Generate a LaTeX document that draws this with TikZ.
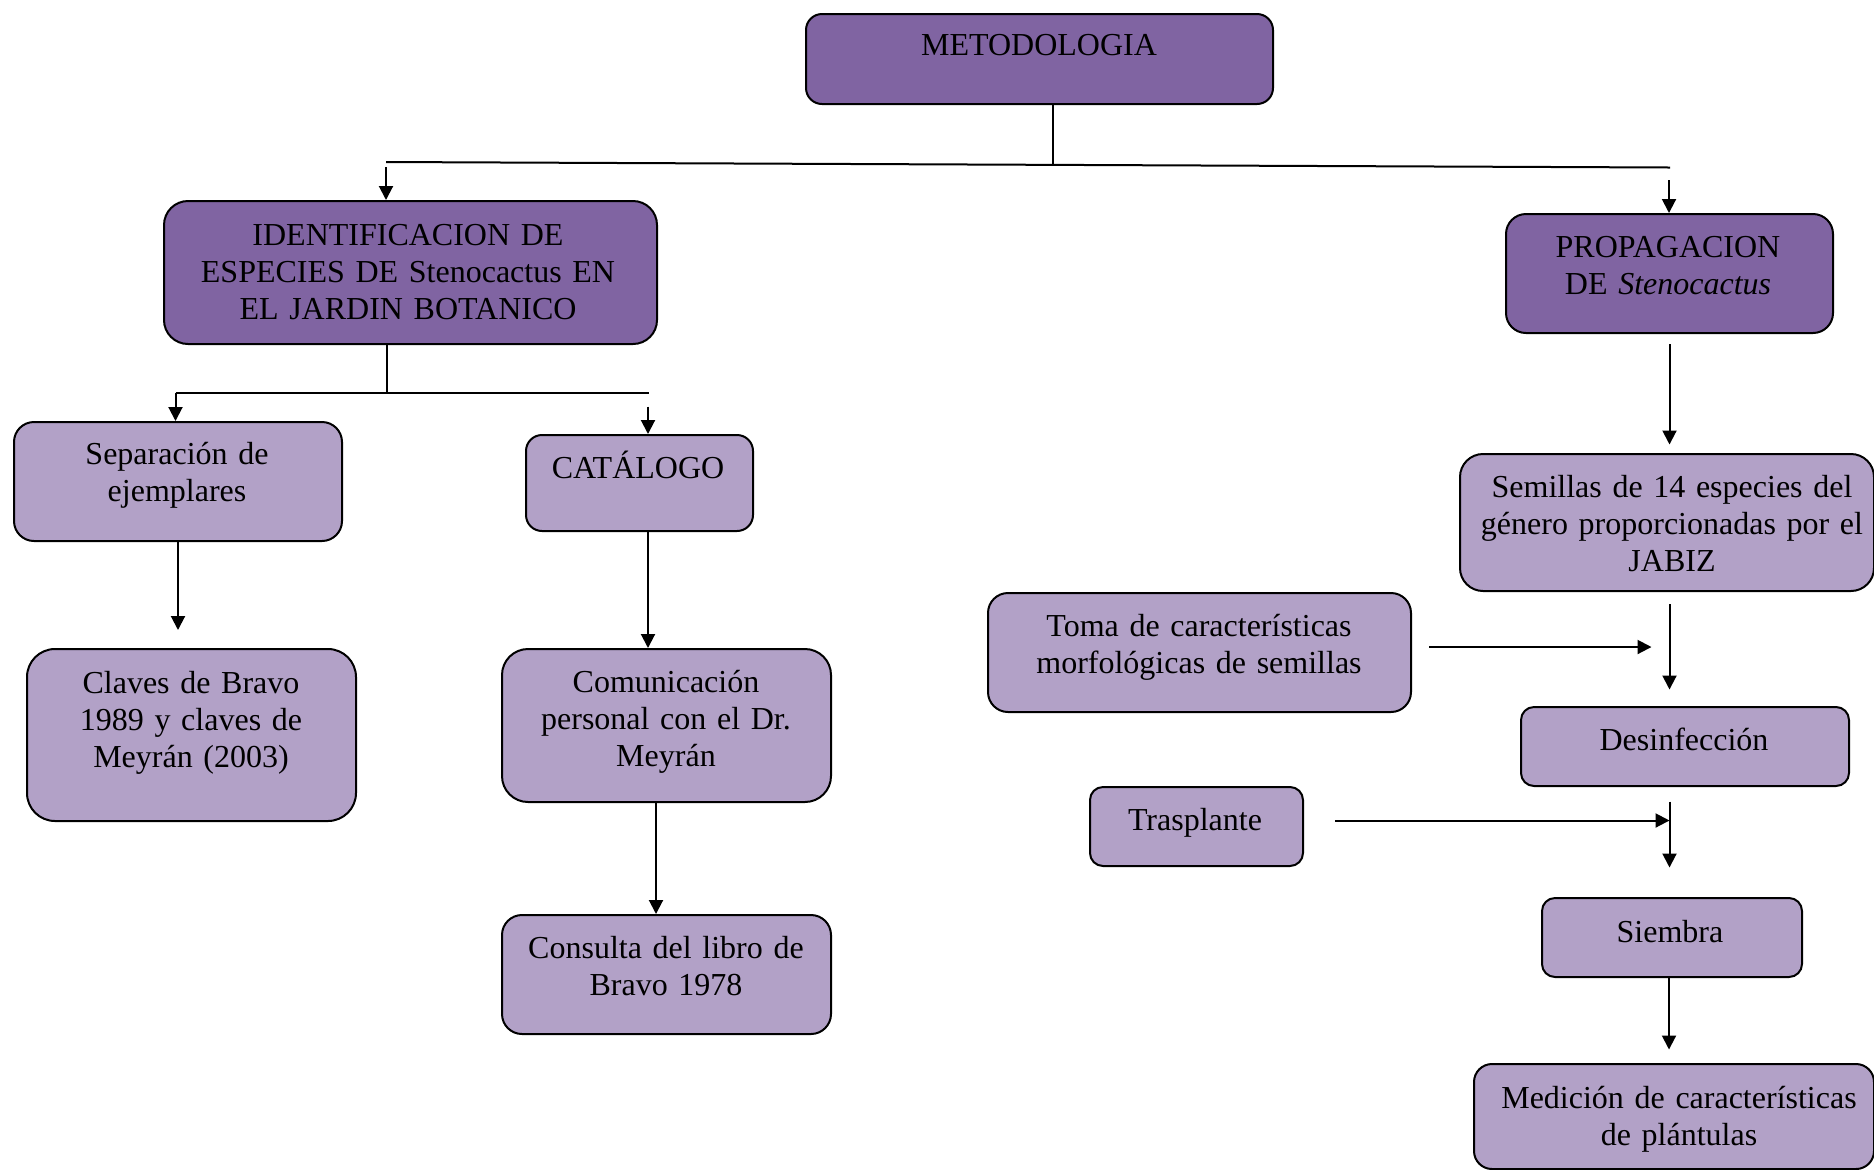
\documentclass[tikz,border=0pt]{standalone}
\usepackage{fontspec}
\setmainfont{Liberation Serif}
\usetikzlibrary{arrows.meta}
\definecolor{dkp}{HTML}{8064A2}
\definecolor{ltp}{HTML}{B2A1C7}
\newcommand\diafont{\fontsize{16pt}{18.7pt}\selectfont}
\begin{document}
\begin{tikzpicture}[x=0.5pt,y=-0.5pt,
  boxbase/.style={draw=black,line width=1pt,inner sep=0pt,anchor=north west},
  darkbox/.style={boxbase,fill=dkp},
  lightbox/.style={boxbase,fill=ltp},
  txt/.style={font=\diafont,align=center,inner sep=0pt,anchor=base,text=black},
  link/.style={line width=1pt,draw=black},
  arr/.style={link,-{Triangle[width=7pt,length=7pt]}}]
\useasboundingbox (0,0) rectangle (1874,1169);

% boxes
\node[darkbox,minimum width=233.5pt,minimum height=45pt,rounded corners=8pt] (met) at (805,13) {};
\node[txt,text width=233.5pt] (mett) at (1039,55) {METODOLOGIA};

\node[darkbox,minimum width=246.5pt,minimum height=71.5pt,rounded corners=12pt] (ide) at (163,200) {};
\node[txt,text width=246.5pt] (idet) at (408,245) {IDENTIFICACION DE\\ESPECIES DE Stenocactus EN\\EL JARDIN BOTANICO};

\node[darkbox,minimum width=163.5pt,minimum height=59.5pt,rounded corners=10pt] (pro) at (1505,213) {};
\node[txt,text width=163.5pt] (prot) at (1668,257) {PROPAGACION\\DE \textit{Stenocactus}};

\node[lightbox,minimum width=164pt,minimum height=59.5pt,rounded corners=10pt] (sep) at (13,421) {};
\node[txt,text width=164pt] (sept) at (177,464) {Separación de\\ejemplares};

\node[lightbox,minimum width=113.5pt,minimum height=48pt,rounded corners=8pt] (cat) at (525,434) {};
\node[txt,text width=113.5pt] (catt) at (638,478) {CATÁLOGO};

\node[lightbox,minimum width=164.5pt,minimum height=86pt,rounded corners=14pt] (cla) at (26,648) {};
\node[txt,text width=164.5pt] (clat) at (191,693) {Claves de Bravo\\1989 y claves de\\Meyrán (2003)};

\node[lightbox,minimum width=164.5pt,minimum height=76.5pt,rounded corners=13pt] (com) at (501,648) {};
\node[txt,text width=164.5pt] (comt) at (666,692) {Comunicación\\personal con el Dr.\\Meyrán};

\node[lightbox,minimum width=164.5pt,minimum height=59.5pt,rounded corners=10pt] (con) at (501,914) {};
\node[txt,text width=164.5pt] (cont) at (666,958) {Consulta del libro de\\Bravo 1978};

\node[lightbox,minimum width=207pt,minimum height=68.5pt,rounded corners=11.5pt] (sem) at (1459,453) {};
\node[txt,text width=207pt] (semt) at (1672,497) {Semillas de 14 especies del\\género proporcionadas por el\\JABIZ};

\node[lightbox,minimum width=211.5pt,minimum height=59.5pt,rounded corners=10pt] (tom) at (987,592) {};
\node[txt,text width=211.5pt] (tomt) at (1199,636) {Toma de características\\morfológicas de semillas};

\node[lightbox,minimum width=164pt,minimum height=39.5pt,rounded corners=6.5pt] (des) at (1520,706) {};
\node[txt,text width=164pt] (dest) at (1684,750) {Desinfección};

\node[lightbox,minimum width=106.5pt,minimum height=39.5pt,rounded corners=6.5pt] (tra) at (1089,786) {};
\node[txt,text width=106.5pt] (trat) at (1195,830) {Trasplante};

\node[lightbox,minimum width=130pt,minimum height=39.5pt,rounded corners=6.5pt] (sie) at (1541,897) {};
\node[txt,text width=130pt] (siet) at (1670,942) {Siembra};

\node[lightbox,minimum width=200pt,minimum height=52.5pt,rounded corners=9pt] (med) at (1473,1063) {};
\node[txt,text width=200pt] (medt) at (1679,1108) {Medición de características\\de plántulas};

% junction coordinates
\coordinate (mj) at (1053,165);
\coordinate (hl) at (386,162);
\coordinate (hr) at (1670,167.5);
\coordinate (a1) at (386,167);
\coordinate (a2) at (1669,180);
\coordinate (ij) at (386.5,393);
\coordinate (il) at (175.5,393);
\coordinate (ir) at (648.5,393);
\coordinate (a3) at (648,406.5);
\coordinate (a4) at (178,630);
\coordinate (a5) at (648,532);
\coordinate (a6) at (656,801);
\coordinate (a7) at (1669.5,344);
\coordinate (a7e) at (1669.5,444.5);
\coordinate (a8) at (1669.5,604);
\coordinate (a8e) at (1669.5,689.5);
\coordinate (t1) at (1429,647);
\coordinate (t1e) at (1651.5,647);
\coordinate (a9) at (1669.5,801.5);
\coordinate (a9e) at (1669.5,867.5);
\coordinate (t2) at (1335,820.5);
\coordinate (t2e) at (1669.5,820.5);
\coordinate (a10) at (1669,976);
\coordinate (a10e) at (1669,1049.5);

% connectors
\draw[link] (met.south -| mj) -- (mj);
\draw[link] (hl) -- (hr);
\draw[arr] (a1) -- (a1 |- ide.north);
\draw[arr] (a2) -- (a2 |- pro.north);
\draw[link] (ij |- ide.south) -- (ij);
\draw[link] (il) -- (ir);
\draw[arr] (il) -- (il |- sep.north);
\draw[arr] (a3) -- (a3 |- cat.north);
\draw[arr] (sep.south) -- (a4);
\draw[arr] (a5) -- (a5 |- com.north);
\draw[arr] (a6) -- (a6 |- con.north);
\draw[arr] (a7) -- (a7e);
\draw[arr] (a8) -- (a8e);
\draw[arr] (t1) -- (t1e);
\draw[arr] (a9) -- (a9e);
\draw[arr] (t2) -- (t2e);
\draw[arr] (a10) -- (a10e);
\end{tikzpicture}
\end{document}
